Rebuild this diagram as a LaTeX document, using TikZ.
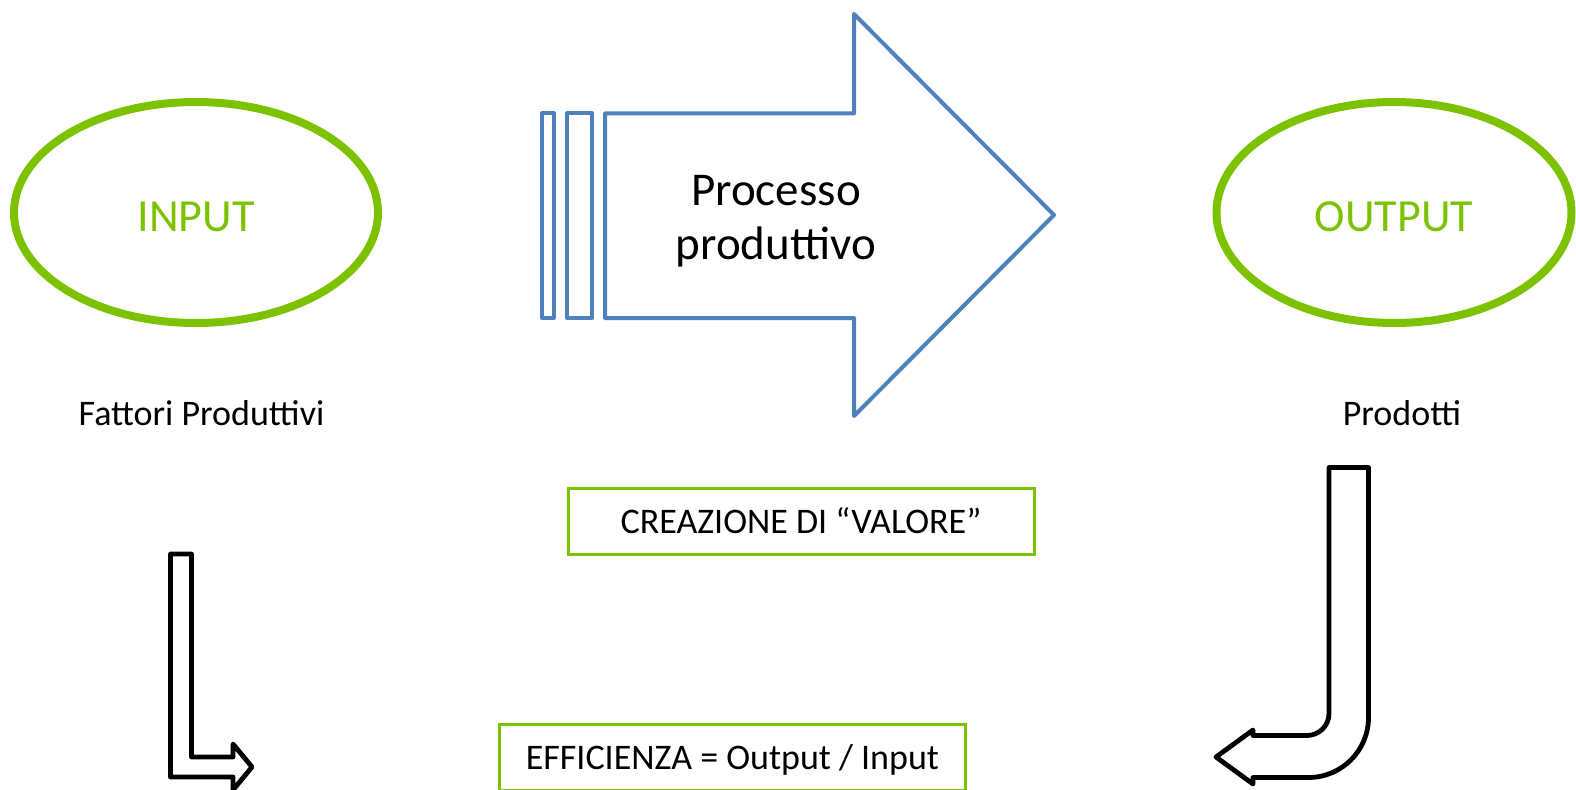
\documentclass[tikz,border=0pt]{standalone}
\usepackage{fontspec}
\setmainfont{Carlito}
\usetikzlibrary{shapes.geometric}
\definecolor{leafgreen}{RGB}{124,194,0}
\definecolor{flowblue}{RGB}{79,129,189}

\begin{document}
\begin{tikzpicture}[x=0.5pt, y=0.5pt,
			io/.style={draw=leafgreen, ellipse, line width=4pt, minimum height=110.5pt, text=leafgreen, text height=19pt, text depth=0pt, font=\fontsize{23}{27}\selectfont},
			note/.style={draw=leafgreen, rectangle, line width=1.5pt, minimum width=233pt, minimum height=33pt, text depth=0pt, font=\fontsize{18}{22}\selectfont},
			caption/.style={anchor=base, font=\fontsize{18}{22}\selectfont},
			flow/.style={draw=flowblue, line width=2pt, line join=round},
			hollow/.style={draw=black, line width=2.4pt, line join=round},
			every text node part/.style={align=center}]
	\clip (0,0) rectangle (1576,789);
	\node[io, minimum width=182pt](input) at (196, 576.5) {INPUT};
	\node[io, minimum width=177.5pt](output) at (1394, 576.5) {OUTPUT};
	
	\draw[flow] (542,471) rectangle (553.7,675.5);
	\draw[flow] (567,471) rectangle (592,675.5);
	\draw[flow] (605,471) -- (605,675.5) -- (854,675.5) -- (854,775) -- (1054,574) -- (854,373) -- (854,471) -- cycle;
	\node[font=\fontsize{23.5}{27}\selectfont](proc) at (776, 568) {Processo\\produttivo};
	
	\node[caption](fattori) at (201.5, 364) {Fattori Produttivi};
	\node[caption](prodotti) at (1402, 364) {Prodotti};
	
	\node[note](valore) at (801, 268) {CREAZIONE DI “VALORE”};
	\node[note](efficienza) at (732.5, 32) {EFFICIENZA = Output / Input};
	
	\draw[hollow] (170.5,235) -- (191.5,235) -- (191.5,32) -- (233,32) -- (233,45) -- (252,22) -- (233,-1) -- (233,12) -- (170.5,12) -- cycle;
	\draw[hollow] (1329,321.5) -- (1368.5,321.5) -- (1368.5,71.5) arc (0:-90:60) -- (1253,11.5) -- (1253,5) -- (1216,32) -- (1253,59) -- (1253,53.5) -- (1307,53.5) arc (-90:0:22) -- cycle;
\end{tikzpicture}
\end{document}
